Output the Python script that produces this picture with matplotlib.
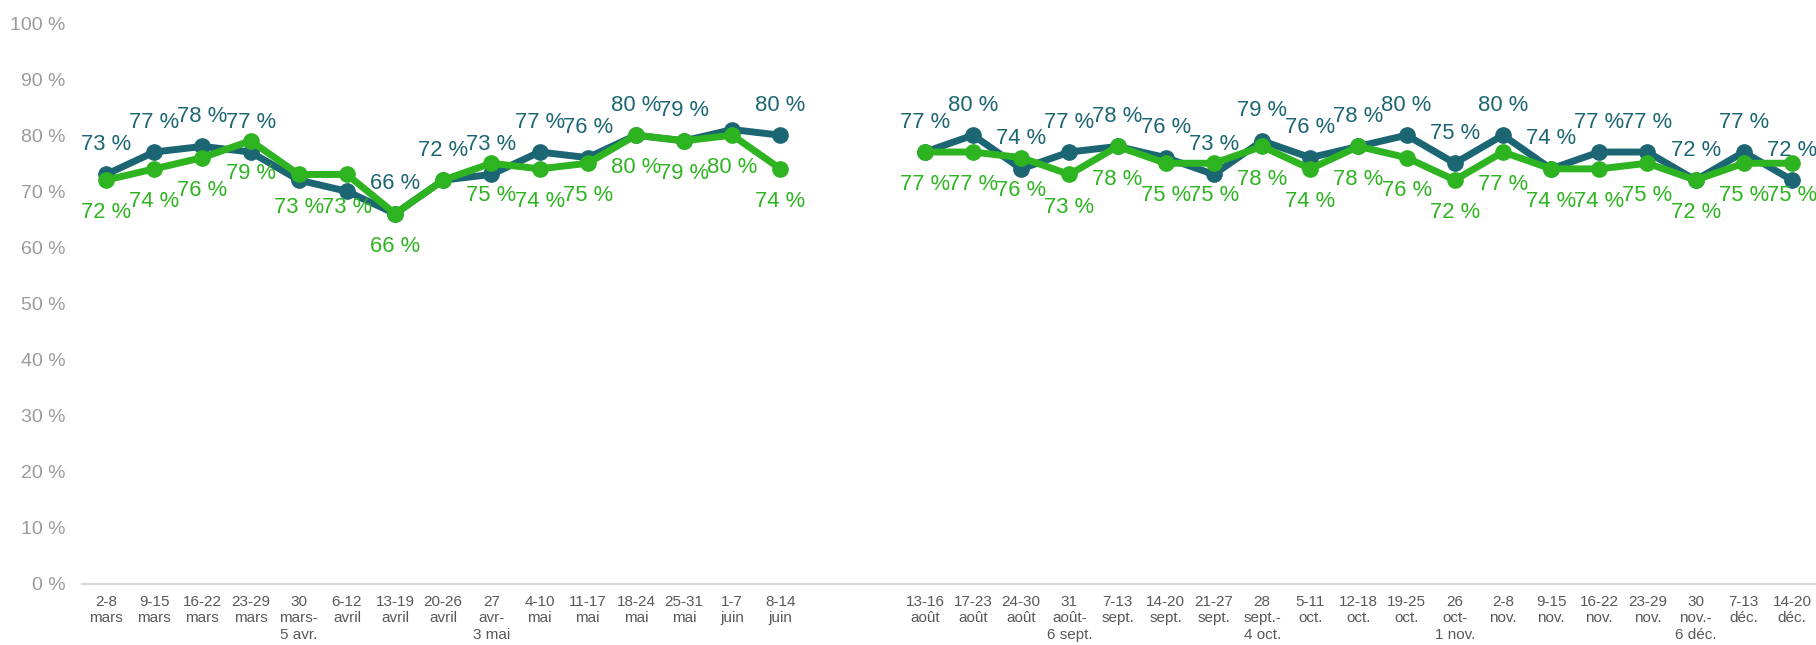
import numpy as np
import matplotlib
matplotlib.use("Agg")
import matplotlib.pyplot as plt

categories = [
    "2-8\nmars", "9-15\nmars", "16-22\nmars", "23-29\nmars", "30\nmars-\n5 avr.",
    "6-12\navril", "13-19\navril", "20-26\navril", "27\navr-\n3 mai", "4-10\nmai",
    "11-17\nmai", "18-24\nmai", "25-31\nmai", "1-7\njuin", "8-14\njuin",
    "", "",
    "13-16\naoût", "17-23\naoût", "24-30\naoût", "31\naoût-\n6 sept.", "7-13\nsept.",
    "14-20\nsept.", "21-27\nsept.", "28\nsept.-\n4 oct.", "5-11\noct.", "12-18\noct.",
    "19-25\noct.", "26\noct-\n1 nov.", "2-8\nnov.", "9-15\nnov.", "16-22\nnov.",
    "23-29\nnov.", "30\nnov.-\n6 déc.", "7-13\ndéc.", "14-20\ndéc.",
]

series_teal = [73, 77, 78, 77, 72, 70, 66, 72, 73, 77, 76, 80, 79, 81, 80,
               None, None,
               77, 80, 74, 77, 78, 76, 73, 79, 76, 78, 80, 75, 80, 74, 77, 77, 72, 77, 72]
series_green = [72, 74, 76, 79, 73, 73, 66, 72, 75, 74, 75, 80, 79, 80, 74,
                None, None,
                77, 77, 76, 73, 78, 75, 75, 78, 74, 78, 76, 72, 77, 74, 74, 75, 72, 75, 75]

# data labels not shown in the reference
teal_hidden = {4, 5, 13}
green_hidden = {7}

yticks = list(range(0, 101, 10))
ytick_labels = [f"{v} %" for v in yticks]

TEAL = "#1c6673"
GREEN = "#2eb421"

plt.rcParams['font.family'] = ['Liberation Sans', 'DejaVu Sans']

fig = plt.figure(figsize=(18.16, 6.45), dpi=100)
ax = fig.add_axes([82/1816, 1-584/645, (1816-82)/1816, (584-23)/645])

x = np.arange(len(categories))
t = np.array([np.nan if v is None else v for v in series_teal], dtype=float)
g = np.array([np.nan if v is None else v for v in series_green], dtype=float)

ax.plot(x, t, color=TEAL, lw=5.0, marker='o', ms=11, zorder=3, solid_capstyle='round')
ax.plot(x, g, color=GREEN, lw=5.0, marker='o', ms=11, zorder=4, solid_capstyle='round')

for i, v in enumerate(t):
    if np.isnan(v) or i in teal_hidden:
        continue
    ax.annotate(f"{int(v)} %", (x[i], v), xytext=(0, 21.5), textcoords='offset points',
                ha='center', va='center', fontsize=15.8, color=TEAL, zorder=5)
for i, v in enumerate(g):
    if np.isnan(v) or i in green_hidden:
        continue
    ax.annotate(f"{int(v)} %", (x[i], v), xytext=(0, -23.5), textcoords='offset points',
                ha='center', va='center', fontsize=15.8, color=GREEN, zorder=5)

ax.set_xlim(-0.5, len(categories) - 0.5)
ax.set_ylim(0, 100)
ax.set_yticks(yticks)
ax.set_yticklabels(ytick_labels, fontsize=14, color="#9b9b9f")
ax.set_xticks(x)
ax.set_xticklabels(categories, fontsize=11, color="#595959", linespacing=1.2)
ax.tick_params(axis='both', length=0)
ax.tick_params(axis='y', pad=12)
ax.tick_params(axis='x', pad=8)

for s in ['top', 'right', 'left']:
    ax.spines[s].set_visible(False)
ax.spines['bottom'].set_color('#d9d9d9')
ax.spines['bottom'].set_linewidth(1.6)

fig.savefig("out.png", dpi=100)
